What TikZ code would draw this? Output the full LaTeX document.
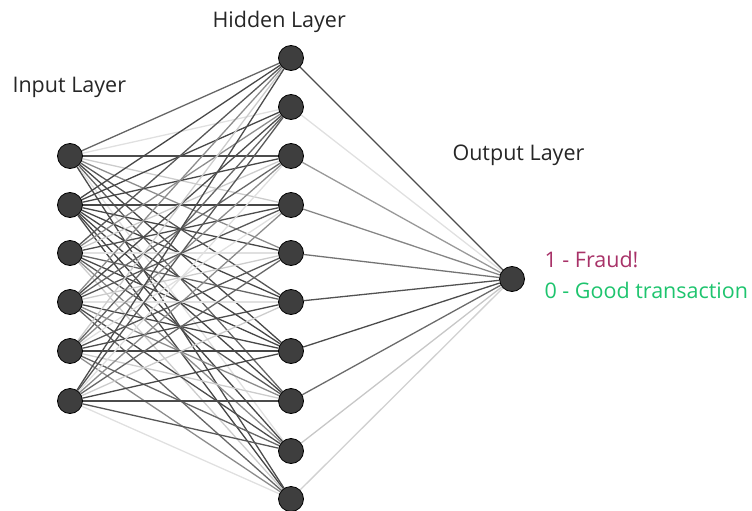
\documentclass[tikz,border=0pt]{standalone}
\usepackage{fontspec}
\setmainfont{Open Sans}
\usepackage{tikz}
\usetikzlibrary{backgrounds}

\definecolor{fraud}{RGB}{168,50,104}
\definecolor{good}{RGB}{30,196,110}
\definecolor{neuron}{RGB}{62,62,62}

\tikzset{
  unit/.style={circle, draw=black, fill=neuron, line width=0.8pt, minimum size=25pt, inner sep=0pt},
  title/.style={anchor=west, font=\fontsize{21.5}{25}\selectfont, text=black!85},
  result/.style={anchor=west, font=\fontsize{21.5}{25}\selectfont},
  weight/.style={line width=1.3pt}
}

\begin{document}
\begin{tikzpicture}[x=1pt, y=-1pt]
\useasboundingbox (0,0) rectangle (752,511);

% layers
\foreach \i/\y in {1/156,2/205,3/253,4/302,5/351,6/401}
  \node[unit] (in\i) at (70,\y) {};
\foreach \j/\y in {1/58,2/107,3/156,4/205,5/253,6/302,7/351,8/401,9/451,10/499}
  \node[unit] (hid\j) at (291,\y) {};
\node[unit] (out) at (512,279) {};

% weights, input to hidden
\begin{scope}[on background layer]
\foreach \i in {1,...,6}
  \foreach \j in {1,...,10} {
    \pgfmathtruncatemacro\k{mod(\i*7+\j*5+\i*\j,7)}
    \pgfmathsetmacro\s{{72,66,45,20,70,12,60}[\k]}
    \draw[weight, draw=black!\s] (in\i) -- (hid\j);
  }
% weights, hidden to output
\foreach \j/\s in {1/70,2/12,3/40,4/48,5/55,6/68,7/70,8/58,9/22,10/18}
  \draw[weight, draw=black!\s] (hid\j) -- (out);
\end{scope}

% labels
\node[title] (lin) at (9,87) {Input Layer};
\node[title] (lhid) at (209,22) {Hidden Layer};
\node[title] (lout) at (449,155) {Output Layer};
\node[result, text=fraud] (yes) at (541,259) {1 - Fraud!};
\node[result, text=good] (no) at (541,290) {0 - Good transaction};

\end{tikzpicture}
\end{document}
